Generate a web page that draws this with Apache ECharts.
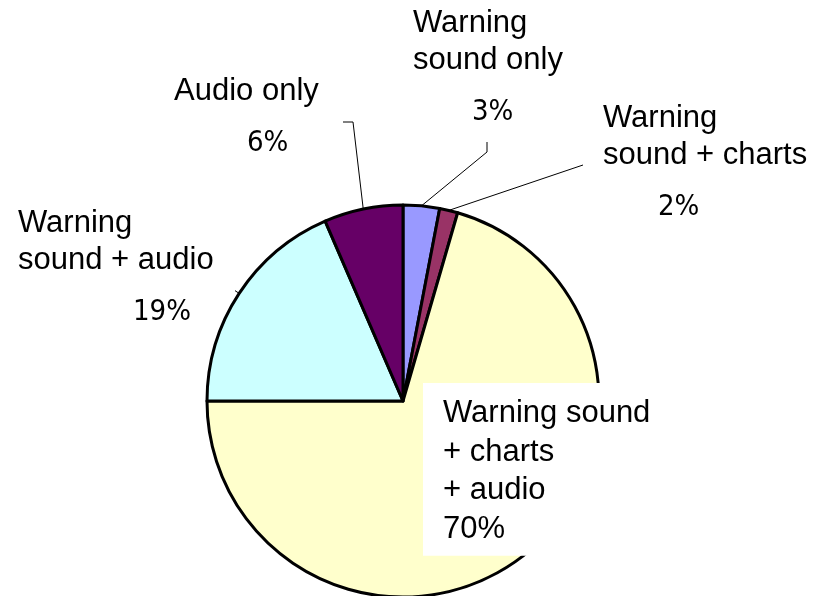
<!DOCTYPE html>
<html><head><meta charset="utf-8">
<script src="https://cdn.jsdelivr.net/npm/echarts@6/dist/echarts.min.js"></script>
<style>html,body{margin:0;padding:0;background:#fff}#c{width:825px;height:596px}</style>
</head><body><div id="c"></div>
<script>
// ---- data ----
const categories = ['Warning\nsound only', 'Warning\nsound + charts', 'Warning sound\n+ charts\n+ audio', 'Warning\nsound + audio', 'Audio only'];
const values = [3.0, 1.5, 70.5, 18.5, 6.5];
const pctLabels = ['3%', '2%', '70%', '19%', '6%'];

// ---- styles / placement ----
const colors = ['#9999FF', '#993366', '#FFFFCC', '#CCFFFF', '#660066'];
const nameFont = "'Liberation Sans', Arial, sans-serif";
const pctFont = "'Liberation Sans Narrow', 'DejaVu Sans Condensed', 'Noto Sans CJK JP', sans-serif";
const labelPlace = [
  { x: 413, y: 5,   pad: 59,  line: [[487, 152], [487, 142]] },
  { x: 603, y: 100, pad: 55,  line: [[583, 165]] },
  { x: 423, y: 383, box: true },
  { x: 18,  y: 205, pad: 115, stub: 5 },
  { x: 174, y: 73,  pad: 73,  line: [[353, 122], [343, 122]] }
];

const chart = echarts.init(document.getElementById('c'), null, { renderer: 'canvas' });

const data = categories.map(function (name, i) {
  const pl = labelPlace[i];
  const item = { name: name, value: values[i], itemStyle: { color: colors[i] } };
  if (pl.box) {
    item.label = {
      formatter: name + '\n' + pctLabels[i],
      fontFamily: nameFont, fontSize: 31, lineHeight: 38.7, color: '#000',
      backgroundColor: '#fff', padding: [11, 8, 7, 20], width: 215, overflow: 'none'
    };
    item.labelLine = { show: false };
  } else {
    const lines = name.split('\n').map(function (l) { return '{n|' + l + '}'; }).join('\n');
    item.label = {
      formatter: lines + '\n{p|' + pctLabels[i] + '}',
      width: 240, overflow: 'none',
      rich: {
        n: { fontFamily: nameFont, fontSize: 31, lineHeight: 37, color: '#000', align: 'left' },
        p: { fontFamily: pctFont, fontSize: 29, lineHeight: 66, color: '#000', align: 'left', padding: [0, 0, 0, pl.pad] }
      }
    };
  }
  return item;
});

chart.setOption({
  backgroundColor: '#ffffff',
  animation: false,
  series: [{
    type: 'pie',
    center: [403, 401],
    radius: 196,
    startAngle: 90,
    clockwise: true,
    avoidLabelOverlap: false,
    emphasis: { disabled: true },
    itemStyle: { borderColor: '#000', borderWidth: 3 },
    label: { show: true, position: 'outside', color: '#000' },
    labelLine: { show: true, length: 10, length2: 10, lineStyle: { color: '#000', width: 1 } },
    labelLayout: function (params) {
      const pl = labelPlace[params.dataIndex];
      const res = { x: pl.x, y: pl.y, align: 'left', verticalAlign: 'top' };
      const pts = params.labelLinePoints;
      if (pts && pts.length) {
        const p0 = pts[0];
        if (pl.line) {
          res.labelLinePoints = [p0].concat(pl.line);
        } else if (pl.stub) {
          const p1 = pts[1];
          const dx = p1[0] - p0[0], dy = p1[1] - p0[1];
          const len = Math.sqrt(dx * dx + dy * dy) || 1;
          res.labelLinePoints = [p0, [p0[0] + dx / len * pl.stub, p0[1] + dy / len * pl.stub]];
        }
      }
      return res;
    },
    data: data
  }]
});
</script>
</body></html>
